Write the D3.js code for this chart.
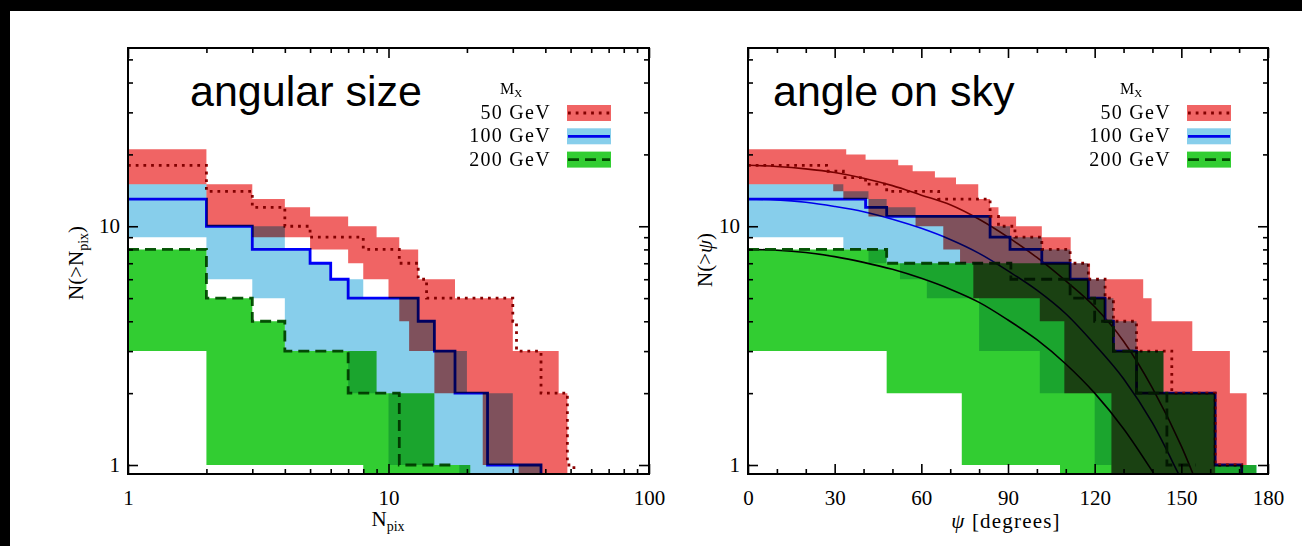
<!DOCTYPE html>
<html>
<head>
<meta charset="utf-8">
<script src="https://cdn.jsdelivr.net/npm/d3@7"></script>
<style>
  body { margin: 0; background: #fff; }
  svg { display: block; }
  .band { mix-blend-mode: multiply; }
</style>
</head>
<body>
<svg id="chart" width="1302" height="546"></svg>
<script>
// ---------------------------------------------------------------
// Data: cumulative counts N(>x) for three WIMP masses.
// Step arrays are [x, value] pairs: the value holds from this x up to
// the next pair's x; the last pair (value null) closes the step.
// A value of 0 means "down to the bottom of the axis".
// ---------------------------------------------------------------
const massLabels = ["50 GeV", "100 GeV", "200 GeV"];
const npixTickValues = [1, 10, 100];
const npixMinorTicks = [2, 3, 4, 5, 6, 7, 8, 9, 20, 30, 40, 50, 60, 70, 80, 90];
const psiTickValues = [0, 30, 60, 90, 120, 150, 180];
const psiMinorTicks = [10, 20, 40, 50, 70, 80, 100, 110, 130, 140, 160, 170];
const countTickValues = [1, 10];
const countMinorTicks = [2, 3, 4, 5, 6, 7, 8, 9, 20, 30, 40, 50];
const npixDomain = [1, 100];
const psiDomain = [0, 180];
const countDomain = [0.917, 55.8];

// --- angular size panel (N_pix) ---
const npixBand50Hi  = [[1,21],[2,15],[3,13],[4,12],[5,11],[7,10],[9,9],[11,8],[13,6],[18,5],[30,3],[45,2],[48.6,null]];
const npixBand50Lo  = [[1,15],[2,10],[3,9],[5,8],[7,7],[8,6],[10,5],[11,4],[12,3],[15,2],[23,1],[31.6,0],[48.6,null]];
const npixBand100Hi = [[1,15],[2,10],[4,8],[5,7],[6,6],[8,5],[13,4],[15,3],[20,2],[30,1],[38.5,null]];
const npixBand100Lo = [[1,9],[2,6],[3,5],[4,3],[7,2],[10,1],[18.7,0],[38.5,null]];
const npixBand200Hi = [[1,8],[2,5],[3,4],[4,3],[9,2],[15,1],[20.6,null]];
const npixBand200Lo = [[1,3],[2,1],[8,0],[20.6,null]];
const npixMedian50  = [[1,18],[2,14],[3,12],[4,10],[5,9],[8,8],[11,7],[13,6],[14,5],[30,4],[31,3],[38.5,2],[48.6,1],[51.5,0],[51.5,null]];
const npixMedian100 = [[1,13],[2,10],[3,8],[5,7],[6,6],[7,5],[13,4],[15,3],[18,2],[24,1],[38.5,0],[38.5,null]];
const npixMedian200 = [[1,8],[2,5],[3,4],[4,3],[7,2],[11,1],[17.6,null]];

// --- angle on sky panel (psi, degrees) ---
const psiBand50Hi  = [[0,21],[34,20],[40.7,19],[52,18],[57,17],[64.7,16],[72,15],[79.7,13],[83.8,12],[86.7,11],[92.8,10],[101.7,9],[111.7,7],[118.4,6],[136.8,5],[139.7,4],[153.8,3],[166.8,2],[172.6,null]];
const psiBand50Lo  = [[0,15],[29.5,14],[33,13],[41.7,11],[58,10],[67.6,8],[73.4,7],[78,5],[101,4],[109.5,2],[125.8,0],[161.7,1],[172.6,null]];
const psiBand100Hi = [[0,15],[33,14],[41.7,13],[48,12],[58,11],[84,10],[90.7,9],[101.7,8],[111.5,7],[117.8,6],[123.6,5],[126.5,4],[134.5,3],[143.8,2],[161.7,1],[176,null]];
const psiBand100Lo = [[0,9],[33,8],[41.7,7],[52.6,6],[61.9,5],[80,3],[101,2],[120,1],[125.8,0],[176,null]];
const psiBand200Hi = [[0,8],[48,7],[111.5,6],[117.8,5],[123.6,4],[126.5,3],[143.8,2],[161.7,1],[176,null]];
const psiBand200Lo = [[0,3],[48,2],[74,1],[108,0],[176,null]];
const psiMedian50  = [[0,18],[27.2,17],[33,16],[40.7,15],[48,14],[66,13],[83.8,11],[86.7,10],[92.4,9],[101.7,8],[111.5,7],[117.8,6],[123.6,5],[126.5,4],[134.5,3],[146.7,2],[161.7,1],[170.9,0],[170.9,null]];
const psiMedian100 = [[0,13],[40.7,12],[48,11],[83.8,9],[90.7,8],[101.7,7],[111.5,6],[117.8,5],[123.6,4],[126.5,3],[134.5,2],[161.7,1],[170.9,0],[170.9,null]];
const psiMedian200 = [[0,8],[48,7],[91,6],[111.5,5],[120,4],[126.5,3],[134.5,2],[145,1],[155,null]];

// smooth isotropic expectation curves
const psiGrid     = [0, 10, 20, 30, 40, 50, 60, 70, 80, 90, 100, 110, 120, 130, 140, 150, 160];
const isoCurve50  = [18, 17.8, 17.4, 16.8, 15.9, 14.8, 13.5, 12.3, 10.7, 9.0, 7.4, 5.9, 4.6, 3.3, 2.1, 1.2, 0.6];
const isoCurve100 = [13, 12.9, 12.6, 12.1, 11.5, 10.7, 9.8, 8.8, 7.7, 6.5, 5.4, 4.3, 3.2, 2.3, 1.5, 0.87, 0.5];
const isoCurve200 = [8, 7.94, 7.76, 7.46, 7.06, 6.6, 6.05, 5.45, 4.8, 4.05, 3.35, 2.65, 2.0, 1.42, 0.94, 0.6, 0.4];

// ---------------------------------------------------------------
const W = 1302, H = 546;
const plotTop = 48, plotBottom = 474;
const serif = "'Liberation Serif', 'Times New Roman', serif";
const sans = "'Liberation Sans', Arial, sans-serif";

const series = {
  m50:  { fill: "#f06464", stroke: "#8b0000", width: 2.8, dash: "2.8,4.9" },
  m100: { fill: "#87ceeb", stroke: "#0000ff", width: 2.8, dash: null },
  m200: { fill: "#32cd32", stroke: "#0a5a0a", width: 2.8, dash: "11,6" }
};

const svg = d3.select("#chart");
svg.append("rect").attr("width", W).attr("height", H).attr("fill", "#fff");
const defs = svg.append("defs");

const y = d3.scaleLog().domain(countDomain).range([plotBottom, plotTop]);
const yv = v => y(Math.max(v, countDomain[0]));

function stepPoints(steps, x) {
  const pts = [];
  for (let i = 0; i < steps.length - 1; i++) {
    const v = steps[i][1];
    pts.push([x(steps[i][0]), yv(v)]);
    pts.push([x(steps[i + 1][0]), yv(v)]);
  }
  return pts;
}
const path = d3.line();

function drawPanel(opt) {
  const x = opt.x;
  const [x0, x1] = x.range();
  defs.append("clipPath").attr("id", opt.id)
    .append("rect").attr("x", x0).attr("y", plotTop)
    .attr("width", x1 - x0).attr("height", plotBottom - plotTop);

  const g = svg.append("g").attr("clip-path", `url(#${opt.id})`).style("isolation", "isolate");
  g.append("rect").attr("x", x0).attr("y", plotTop)
    .attr("width", x1 - x0).attr("height", plotBottom - plotTop).attr("fill", "#fff");

  // smooth curves (beneath the bands, which tint them)
  (opt.curves || []).forEach(c => {
    const pts = psiGrid.map((p, i) => [p, c.values[i]]);
    g.append("path")
      .attr("d", d3.line().x(d => x(d[0])).y(d => y(d[1])).curve(d3.curveMonotoneX)(pts))
      .attr("fill", "none").attr("stroke", c.color).attr("stroke-width", 1.6);
  });

  // median step lines
  opt.medians.forEach(m => {
    const s = series[m.key];
    g.append("path").attr("d", path(stepPoints(m.steps, x)))
      .attr("fill", "none").attr("stroke", s.stroke).attr("stroke-width", s.width)
      .attr("stroke-dasharray", s.dash).attr("stroke-linejoin", "miter");
  });

  // percentile bands, multiplied over each other
  opt.bands.forEach(b => {
    const s = series[b.key];
    const pts = stepPoints(b.hi, x).concat(stepPoints(b.lo, x).reverse());
    g.append("path").attr("class", "band").attr("d", path(pts) + "Z").attr("fill", s.fill);
  });

  // legend
  const lg = g.append("g");
  lg.append("text").attr("x", opt.legendX - 51).attr("y", 94)
    .attr("font-family", serif).attr("font-size", 16)
    .text("M").append("tspan").attr("dy", 3).attr("font-size", 11).text("X");
  const keys = ["m50", "m100", "m200"];
  keys.forEach((k, i) => {
    const s = series[k];
    const cy = 113 + i * 23.3;
    lg.append("text").attr("x", opt.legendX).attr("y", cy + 6)
      .attr("text-anchor", "end").attr("font-family", serif).attr("font-size", 20)
      .attr("letter-spacing", 1.3).text(massLabels[i]);
    const sx = opt.legendX + 16;
    lg.append("line").attr("x1", sx + 1).attr("x2", sx + 43).attr("y1", cy).attr("y2", cy)
      .attr("stroke", s.stroke).attr("stroke-width", s.width).attr("stroke-dasharray", s.dash);
    lg.append("rect").attr("class", "band").attr("x", sx).attr("y", cy - 8)
      .attr("width", 44).attr("height", 16).attr("fill", s.fill);
  });

  // title
  svg.append("text").attr("x", opt.titleX).attr("y", 106)
    .attr("font-family", sans).attr("font-size", 43).text(opt.title);

  // frame
  svg.append("rect").attr("x", x0).attr("y", plotTop)
    .attr("width", x1 - x0).attr("height", plotBottom - plotTop)
    .attr("fill", "none").attr("stroke", "#000").attr("stroke-width", 2);

  const axis = (gen, tr, vals, size, withLabels, pad) => {
    const a = svg.append("g").attr("transform", tr)
      .call(gen.tickValues(vals).tickSize(size).tickSizeOuter(0).tickPadding(pad || 3)
        .tickFormat(withLabels ? d3.format("d") : ""));
    a.select(".domain").remove();
    a.selectAll("line").attr("stroke", "#000").attr("stroke-width", 1.6);
    a.attr("font-family", serif).attr("font-size", 21);
    a.selectAll("text").attr("fill", "#000");
    return a;
  };
  axis(d3.axisBottom(x), `translate(0,${plotBottom})`, opt.majorX, -10, true, 16);
  axis(d3.axisBottom(x), `translate(0,${plotBottom})`, opt.minorX, -5, false);
  axis(d3.axisTop(x), `translate(0,${plotTop})`, opt.majorX, -10, false);
  axis(d3.axisTop(x), `translate(0,${plotTop})`, opt.minorX, -5, false);
  axis(d3.axisLeft(y), `translate(${x0},0)`, countTickValues, -10, true, 8);
  axis(d3.axisLeft(y), `translate(${x0},0)`, countMinorTicks, -5, false);
  axis(d3.axisRight(y), `translate(${x1},0)`, countTickValues, -10, false);
  axis(d3.axisRight(y), `translate(${x1},0)`, countMinorTicks, -5, false);
}

// left: angular size
const xPix = d3.scaleLog().domain(npixDomain).range([128, 649]);
drawPanel({
  id: "clipPix", x: xPix, title: "angular size", titleX: 190, legendX: 551,
  majorX: npixTickValues, minorX: npixMinorTicks,
  medians: [
    { key: "m100", steps: npixMedian100 },
    { key: "m200", steps: npixMedian200 },
    { key: "m50",  steps: npixMedian50 }
  ],
  bands: [
    { key: "m100", hi: npixBand100Hi, lo: npixBand100Lo },
    { key: "m200", hi: npixBand200Hi, lo: npixBand200Lo },
    { key: "m50",  hi: npixBand50Hi,  lo: npixBand50Lo }
  ]
});

// right: angle on sky
const xPsi = d3.scaleLinear().domain(psiDomain).range([748, 1268]);
drawPanel({
  id: "clipPsi", x: xPsi, title: "angle on sky", titleX: 773, legendX: 1171,
  majorX: psiTickValues, minorX: psiMinorTicks,
  curves: [
    { values: isoCurve100, color: "#0000ff" },
    { values: isoCurve200, color: "#000000" },
    { values: isoCurve50,  color: "#800000" }
  ],
  medians: [
    { key: "m100", steps: psiMedian100 },
    { key: "m200", steps: psiMedian200 },
    { key: "m50",  steps: psiMedian50 }
  ],
  bands: [
    { key: "m100", hi: psiBand100Hi, lo: psiBand100Lo },
    { key: "m200", hi: psiBand200Hi, lo: psiBand200Lo },
    { key: "m50",  hi: psiBand50Hi,  lo: psiBand50Lo }
  ]
});

// axis titles
const xt1 = svg.append("text").attr("x", 388).attr("y", 526).attr("text-anchor", "middle")
  .attr("font-family", serif).attr("font-size", 21);
xt1.append("tspan").text("N");
xt1.append("tspan").attr("dy", 5).attr("font-size", 14).text("pix");

svg.append("text").attr("x", 1006).attr("y", 528).attr("text-anchor", "middle")
  .attr("font-family", serif).attr("font-size", 21).attr("letter-spacing", 1.2)
  .html("<tspan font-style='italic'>ψ</tspan> [degrees]");

const yt1 = svg.append("text").attr("transform", "translate(83,263) rotate(-90)")
  .attr("text-anchor", "middle").attr("font-family", serif).attr("font-size", 21);
yt1.append("tspan").text("N(>N");
yt1.append("tspan").attr("dy", 5).attr("font-size", 14).text("pix");
yt1.append("tspan").attr("dy", -5).text(")");

svg.append("text").attr("transform", "translate(712,260) rotate(-90)")
  .attr("text-anchor", "middle").attr("font-family", serif).attr("font-size", 21)
  .html("N(&gt;<tspan font-style='italic'>ψ</tspan>)");

// dark page border along the top and left edges
svg.append("rect").attr("x", 0).attr("y", 0).attr("width", W).attr("height", 11).attr("fill", "#000");
svg.append("rect").attr("x", 0).attr("y", 0).attr("width", 10).attr("height", H).attr("fill", "#000");
</script>
</body>
</html>
